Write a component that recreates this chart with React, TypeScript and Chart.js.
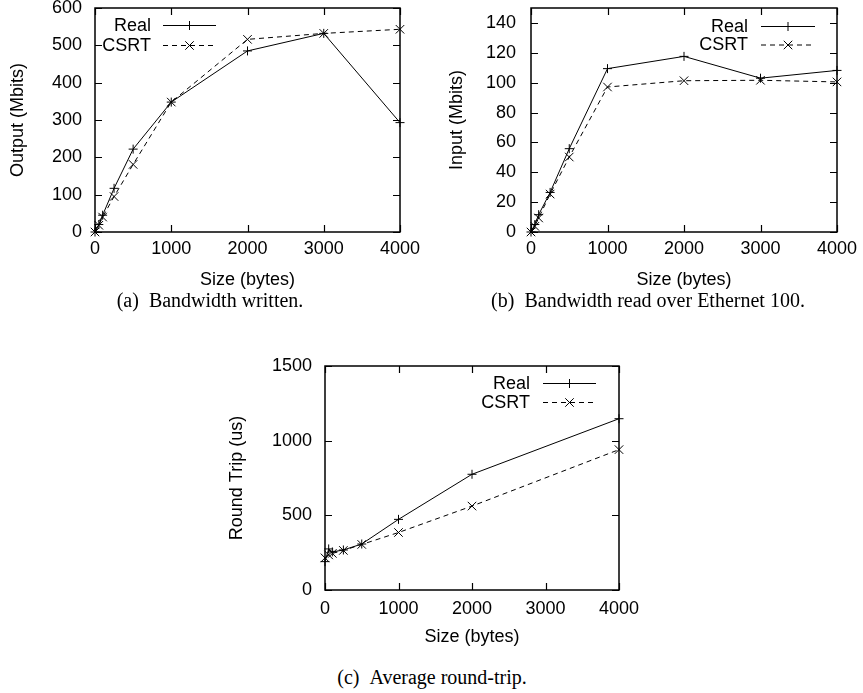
import React, { useEffect, useRef } from "react";
import { Chart, registerables } from "chart.js";

Chart.register(...registerables);

// ---------- data ----------
const seriesLabels = ["Real", "CSRT"];
const xTickValues = [0, 1000, 2000, 3000, 4000];

const sizesAB = [0, 50, 100, 250, 500, 1000, 2000, 3000, 4000];
const writtenReal = [0, 20, 45, 117, 222, 348, 485, 532, 293];
const writtenCsrt = [0, 18, 40, 95, 181, 348, 516, 532, 543];

const readReal = [0, 5, 11.6, 26.5, 55.8, 109.4, 117.6, 103, 108.2];
const readCsrt = [0, 3.8, 9.4, 25.4, 50.2, 97.1, 101.3, 101.6, 100.5];

const sizesC = [0, 50, 100, 250, 500, 1000, 2000, 4000];
const rttReal = [190, 275, 255, 268, 308, 473, 775, 1147];
const rttCsrt = [215, 235, 245, 265, 305, 385, 562, 940];

const captions = [
  "(a)\u2002Bandwidth written.",
  "(b)\u2002Bandwidth read over Ethernet 100.",
  "(c)\u2002Average round-trip.",
];

// ---------- styling ----------
const SANS = "'Liberation Sans', Arial, Helvetica, sans-serif";
const SERIF = "'Liberation Serif', 'Times New Roman', serif";
const FS = 18;

function drawMarker(ctx: CanvasRenderingContext2D, style: string, x: number, y: number, r: number) {
  ctx.beginPath();
  if (style === "crossRot") {
    const d = r * Math.SQRT1_2;
    ctx.moveTo(x - d, y - d);
    ctx.lineTo(x + d, y + d);
    ctx.moveTo(x - d, y + d);
    ctx.lineTo(x + d, y - d);
  } else {
    ctx.moveTo(x - r, y);
    ctx.lineTo(x + r, y);
    ctx.moveTo(x, y - r);
    ctx.lineTo(x, y + r);
  }
  ctx.stroke();
}

const framePlugin = {
  id: "gnuframe",
  afterDatasetsDraw(chart: any) {
    const { ctx, chartArea: a } = chart;
    const xs = chart.scales.x;
    const ys = chart.scales.y;
    const tl = 7;
    ctx.save();
    ctx.strokeStyle = "#000";
    ctx.lineWidth = 1.5;
    ctx.strokeRect(a.left, a.top, a.right - a.left, a.bottom - a.top);
    ctx.lineWidth = 1.2;
    ctx.beginPath();
    xs.ticks.forEach((t: any) => {
      const px = Math.round(xs.getPixelForValue(t.value)) + 0.5;
      ctx.moveTo(px, a.bottom);
      ctx.lineTo(px, a.bottom - tl);
      ctx.moveTo(px, a.top);
      ctx.lineTo(px, a.top + tl);
    });
    ys.ticks.forEach((t: any) => {
      const py = Math.round(ys.getPixelForValue(t.value)) + 0.5;
      ctx.moveTo(a.left, py);
      ctx.lineTo(a.left + tl, py);
      ctx.moveTo(a.right, py);
      ctx.lineTo(a.right - tl, py);
    });
    ctx.stroke();
    ctx.restore();
  },
};

const keyPlugin = {
  id: "gnukey",
  afterDatasetsDraw(chart: any, _args: any, opts: any) {
    const { ctx } = chart;
    ctx.save();
    ctx.font = `${FS}px ${SANS}`;
    ctx.fillStyle = "#000";
    ctx.textAlign = "right";
    ctx.textBaseline = "middle";
    chart.data.datasets.forEach((ds: any, i: number) => {
      const y = opts.y0 + i * opts.dy;
      ctx.fillText(ds.label, opts.textRight, y + 1);
      ctx.strokeStyle = "#000";
      ctx.lineWidth = 1;
      ctx.setLineDash(ds.borderDash || []);
      ctx.beginPath();
      ctx.moveTo(opts.x1, y + 0.5);
      ctx.lineTo(opts.x2, y + 0.5);
      ctx.stroke();
      ctx.setLineDash([]);
      drawMarker(ctx, ds.pointStyle, (opts.x1 + opts.x2) / 2, y + 0.5, ds.pointRadius);
    });
    ctx.restore();
  },
};

type Area = { left: number; top: number; right: number; bottom: number };

function makeConfig(p: {
  xs: number[];
  real: number[];
  csrt: number[];
  yMax: number;
  yStep: number;
  yTickMax: number;
  yTitle: string;
  width: number;
  height: number;
  area: Area;
  yTitlePad: number;
  xTitlePad: number;
  yTickPad: number;
  xTickPad: number;
  key: { textRight: number; x1: number; x2: number; y0: number; dy: number };
}) {
  const toPts = (ys: number[]) => p.xs.map((x, i) => ({ x, y: ys[i] }));
  const common = {
    borderColor: "#000",
    borderWidth: 1,
    pointBorderColor: "#000",
    pointBackgroundColor: "#000",
    pointBorderWidth: 1,
    fill: false,
    tension: 0,
    clip: false as any,
  };
  const yTicks: { value: number }[] = [];
  for (let v = 0; v <= p.yTickMax; v += p.yStep) yTicks.push({ value: v });
  const plain = (v: any) => String(v);
  return {
    type: "line" as const,
    data: {
      datasets: [
        { ...common, label: seriesLabels[0], data: toPts(p.real), pointStyle: "cross", pointRadius: 4.5 },
        { ...common, label: seriesLabels[1], data: toPts(p.csrt), pointStyle: "crossRot", pointRadius: 6, borderDash: [5, 4] },
      ],
    },
    options: {
      responsive: false,
      animation: false as const,
      events: [],
      layout: { padding: { left: 0, top: p.area.top, right: p.width - p.area.right, bottom: 0 } },
      plugins: {
        legend: { display: false },
        tooltip: { enabled: false },
        gnukey: p.key,
      },
      scales: {
        x: {
          type: "linear" as const,
          min: 0,
          max: 4000,
          afterBuildTicks: (s: any) => {
            s.ticks = xTickValues.map((v) => ({ value: v }));
          },
          ticks: { padding: p.xTickPad, color: "#000", font: { size: FS, family: SANS }, maxRotation: 0, callback: plain },
          grid: { display: false, drawTicks: false, tickLength: 0 },
          border: { display: false },
          title: { display: true, text: "Size (bytes)", color: "#000", font: { size: FS, family: SANS }, padding: { top: 0, bottom: p.xTitlePad } },
          afterFit: (s: any) => {
            s.height = p.height - p.area.bottom;
            s.paddingLeft = 0;
            s.paddingRight = 0;
          },
        },
        y: {
          type: "linear" as const,
          min: 0,
          max: p.yMax,
          afterBuildTicks: (s: any) => {
            s.ticks = yTicks.map((t) => ({ value: t.value }));
          },
          ticks: { padding: p.yTickPad, color: "#000", font: { size: FS, family: SANS }, callback: plain },
          grid: { display: false, drawTicks: false, tickLength: 0 },
          border: { display: false },
          title: { display: true, text: p.yTitle, color: "#000", font: { size: FS, family: SANS }, padding: { top: p.yTitlePad, bottom: 0 } },
          afterFit: (s: any) => {
            s.width = p.area.left;
            s.paddingTop = 0;
            s.paddingBottom = 0;
          },
        },
      },
    },
    plugins: [framePlugin, keyPlugin],
  };
}

function GnuChart(props: { left: number; top: number; width: number; height: number; config: any }) {
  const ref = useRef<HTMLCanvasElement>(null);
  useEffect(() => {
    const chart = new Chart(ref.current as HTMLCanvasElement, props.config);
    return () => chart.destroy();
  }, []);
  return (
    <canvas
      ref={ref}
      width={props.width}
      height={props.height}
      style={{ position: "absolute", left: props.left, top: props.top, width: props.width, height: props.height }}
    />
  );
}

function Caption(props: { cx: number; cy: number; text: string }) {
  return (
    <div
      style={{
        position: "absolute",
        left: props.cx,
        top: props.cy,
        transform: "translate(-50%, -50%)",
        whiteSpace: "nowrap",
        fontFamily: SERIF,
        fontSize: 20,
        color: "#000",
        lineHeight: 1,
      }}
    >
      {props.text}
    </div>
  );
}

export default function App() {
  const cfgA = makeConfig({
    xs: sizesAB, real: writtenReal, csrt: writtenCsrt,
    yMax: 600, yStep: 100, yTickMax: 600, yTitle: "Output (Mbits)",
    width: 430, height: 295,
    area: { left: 95, top: 8, right: 400, bottom: 232 },
    yTitlePad: 7, xTitlePad: 4, yTickPad: 13, xTickPad: 6,
    key: { textRight: 151, x1: 163, x2: 216, y0: 25, dy: 20 },
  });
  const cfgB = makeConfig({
    xs: sizesAB, real: readReal, csrt: readCsrt,
    yMax: 150, yStep: 20, yTickMax: 140, yTitle: "Input (Mbits)",
    width: 433, height: 295,
    area: { left: 101, top: 8, right: 407, bottom: 232 },
    yTitlePad: 16, xTitlePad: 4, yTickPad: 15, xTickPad: 6,
    key: { textRight: 318, x1: 331, x2: 385, y0: 26, dy: 18.5 },
  });
  const cfgC = makeConfig({
    xs: sizesC, real: rttReal, csrt: rttCsrt,
    yMax: 1500, yStep: 500, yTickMax: 1500, yTitle: "Round Trip (us)",
    width: 420, height: 320,
    area: { left: 105, top: 26, right: 399, bottom: 250 },
    yTitlePad: 6, xTitlePad: 12, yTickPad: 13, xTickPad: 8,
    key: { textRight: 310, x1: 323, x2: 376, y0: 43, dy: 19 },
  });
  return (
    <div style={{ position: "absolute", left: 0, top: 0, width: 863, height: 693, background: "#fff", overflow: "hidden" }}>
      <GnuChart left={0} top={0} width={430} height={295} config={cfgA} />
      <GnuChart left={430} top={0} width={433} height={295} config={cfgB} />
      <GnuChart left={220} top={340} width={420} height={320} config={cfgC} />
      <Caption cx={210} cy={300} text={captions[0]} />
      <Caption cx={648} cy={300} text={captions[1]} />
      <Caption cx={432} cy={677} text={captions[2]} />
    </div>
  );
}
